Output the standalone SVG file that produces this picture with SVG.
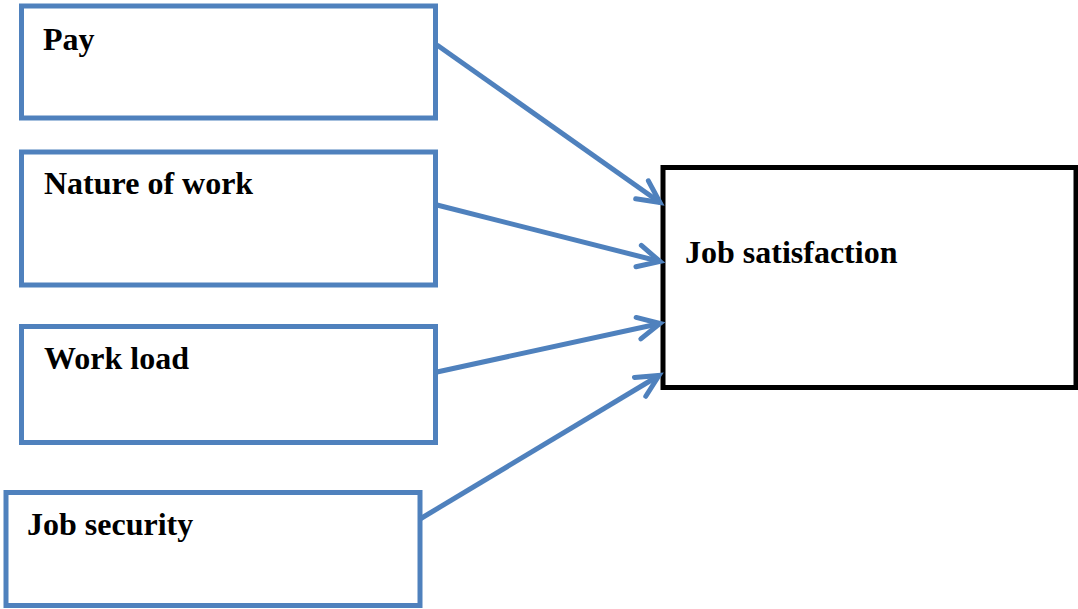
<svg xmlns="http://www.w3.org/2000/svg" width="1078" height="609" viewBox="0 0 1078 609">
<style>
.box{fill:#fff;stroke:#4F81BD;stroke-width:5}
.main{fill:#fff;stroke:#000;stroke-width:5}
.lbl{font-family:"Liberation Serif","Times New Roman",serif;font-weight:bold;font-size:32px;fill:#000}
.conn{stroke:#4F81BD;stroke-width:5;fill:none}
</style>
<defs>
<marker id="arr" markerUnits="userSpaceOnUse" viewBox="-30 -18 36 36" markerWidth="36" markerHeight="36" refX="0" refY="0" orient="auto" overflow="visible">
<path d="M-22,-11 L0,0 L-22,11" fill="none" stroke="#4F81BD" stroke-width="5" stroke-linecap="round" stroke-linejoin="miter"/>
</marker>
</defs>
<rect width="1078" height="609" fill="#fff"/>
<g id="pay"><rect class="box" x="21.5" y="6" width="414" height="112"/><text class="lbl" x="43" y="50">Pay</text></g>
<g id="nature"><rect class="box" x="21.5" y="152" width="414" height="133"/><text class="lbl" x="44" y="194">Nature of work</text></g>
<g id="workload"><rect class="box" x="21.5" y="326.5" width="414" height="116"/><text class="lbl" x="44" y="369">Work load</text></g>
<g id="security"><rect class="box" x="6" y="492.5" width="414" height="113"/><text class="lbl" x="27" y="535">Job security</text></g>
<g id="satisfaction"><rect class="main" x="663" y="167.5" width="413" height="220"/><text class="lbl" x="685" y="263">Job satisfaction</text></g>
<g id="connectors">
<line class="conn" x1="437" y1="45" x2="660" y2="202.5" marker-end="url(#arr)"/>
<line class="conn" x1="437" y1="205" x2="660" y2="261.5" marker-end="url(#arr)"/>
<line class="conn" x1="437" y1="372" x2="660" y2="323.5" marker-end="url(#arr)"/>
<line class="conn" x1="420" y1="519" x2="659" y2="375.5" marker-end="url(#arr)"/>
</g>
</svg>
